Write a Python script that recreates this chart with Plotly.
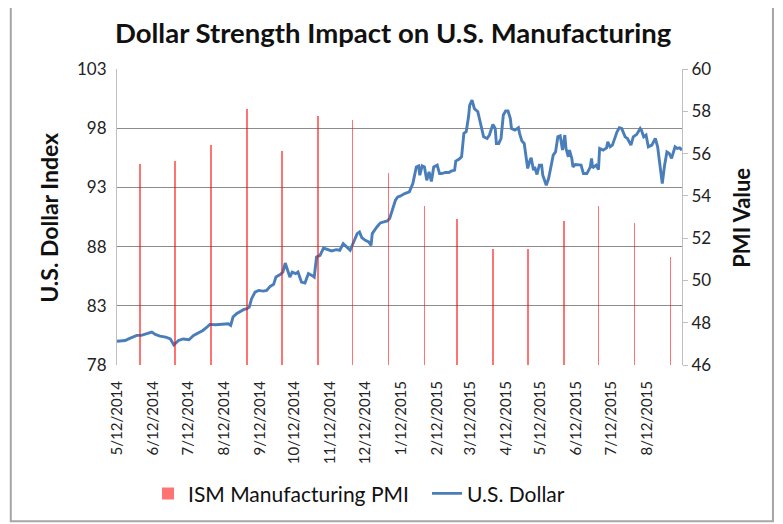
import plotly.graph_objects as go

# ---- Data ----
usd_dates = [
    "2014-05-12", "2014-05-19", "2014-05-22", "2014-05-25", "2014-05-29", "2014-06-02", "2014-06-05",
    "2014-06-08", "2014-06-11", "2014-06-14", "2014-06-18", "2014-06-23", "2014-06-27", "2014-06-30",
    "2014-07-04", "2014-07-08", "2014-07-13", "2014-07-17", "2014-07-21", "2014-07-25", "2014-07-28",
    "2014-07-31", "2014-08-05", "2014-08-09", "2014-08-12", "2014-08-16", "2014-08-18", "2014-08-20",
    "2014-08-23", "2014-08-26", "2014-08-29", "2014-09-01", "2014-09-03", "2014-09-05", "2014-09-08",
    "2014-09-11", "2014-09-15", "2014-09-18", "2014-09-21", "2014-09-24", "2014-09-26", "2014-09-30",
    "2014-10-02", "2014-10-04", "2014-10-06", "2014-10-08", "2014-10-10", "2014-10-13", "2014-10-15",
    "2014-10-18", "2014-10-21", "2014-10-24", "2014-10-27", "2014-10-29", "2014-10-31", "2014-11-03",
    "2014-11-06", "2014-11-10", "2014-11-13", "2014-11-17", "2014-11-20", "2014-11-23", "2014-11-26",
    "2014-11-29", "2014-12-02", "2014-12-05", "2014-12-07", "2014-12-09", "2014-12-12", "2014-12-15",
    "2014-12-17", "2014-12-18", "2014-12-22", "2014-12-25", "2014-12-28", "2014-12-31", "2015-01-02",
    "2015-01-04", "2015-01-07", "2015-01-09", "2015-01-11", "2015-01-15", "2015-01-18", "2015-01-19",
    "2015-01-22", "2015-01-25", "2015-01-27", "2015-01-28", "2015-01-30", "2015-02-01", "2015-02-03",
    "2015-02-05", "2015-02-07", "2015-02-09", "2015-02-12", "2015-02-14", "2015-02-16", "2015-02-19",
    "2015-02-22", "2015-02-24", "2015-02-27", "2015-02-28", "2015-03-03", "2015-03-05", "2015-03-07",
    "2015-03-09", "2015-03-11", "2015-03-12", "2015-03-14", "2015-03-15", "2015-03-16", "2015-03-19",
    "2015-03-21", "2015-03-22", "2015-03-24", "2015-03-27", "2015-03-29", "2015-04-01", "2015-04-03",
    "2015-04-04", "2015-04-06", "2015-04-08", "2015-04-10", "2015-04-12", "2015-04-14", "2015-04-16",
    "2015-04-17", "2015-04-20", "2015-04-23", "2015-04-24", "2015-04-26", "2015-04-28", "2015-04-29",
    "2015-05-01", "2015-05-03", "2015-05-04", "2015-05-06", "2015-05-07", "2015-05-09", "2015-05-11",
    "2015-05-13", "2015-05-14", "2015-05-17", "2015-05-19", "2015-05-21", "2015-05-23", "2015-05-25",
    "2015-05-27", "2015-05-29", "2015-05-30", "2015-05-31", "2015-06-02", "2015-06-03", "2015-06-05",
    "2015-06-06", "2015-06-08", "2015-06-09", "2015-06-11", "2015-06-14", "2015-06-16", "2015-06-18",
    "2015-06-21", "2015-06-24", "2015-06-25", "2015-06-26", "2015-06-29", "2015-07-01", "2015-07-02",
    "2015-07-05", "2015-07-08", "2015-07-09", "2015-07-11", "2015-07-13", "2015-07-14", "2015-07-17",
    "2015-07-19", "2015-07-21", "2015-07-24", "2015-07-26", "2015-07-29", "2015-07-31", "2015-08-03",
    "2015-08-06", "2015-08-07", "2015-08-09", "2015-08-11", "2015-08-13", "2015-08-16", "2015-08-19",
    "2015-08-21", "2015-08-23", "2015-08-25", "2015-08-27", "2015-08-29", "2015-08-31", "2015-09-02",
    "2015-09-05", "2015-09-07", "2015-09-09", "2015-09-11",
]
usd_values = [
    80.00, 80.07, 80.20, 80.35, 80.50, 80.50, 80.58,
    80.64, 80.78, 80.58, 80.44, 80.35, 80.20, 79.70,
    80.07, 80.20, 80.13, 80.50, 80.70, 80.92, 81.15,
    81.43, 81.40, 81.43, 81.43, 81.48, 81.34, 82.05,
    82.33, 82.53, 82.67, 82.75, 82.89, 83.60, 84.16,
    84.30, 84.24, 84.30, 84.64, 84.81, 85.43, 85.66,
    85.85, 86.61, 86.00, 85.43, 85.85, 85.72, 85.85,
    85.00, 84.92, 85.72, 85.57, 85.43, 87.12, 87.26,
    87.88, 87.74, 87.63, 87.74, 87.69, 88.25, 87.97,
    87.69, 88.39, 89.10, 89.24, 88.76, 88.53, 88.39,
    88.11, 89.10, 89.66, 90.00, 90.08, 90.17, 90.37,
    91.07, 91.92, 92.20, 92.26, 92.48, 92.62, 92.62,
    93.33, 94.73, 94.82, 94.03, 94.82, 94.73, 93.60,
    94.31, 93.50, 94.73, 94.88, 94.17, 94.17, 94.26,
    94.26, 94.37, 94.45, 95.22, 95.39, 95.58, 97.56,
    97.70, 98.96, 99.95, 100.38, 100.10, 99.67, 99.39,
    98.54, 97.84, 97.27, 97.13, 97.42, 98.32, 97.98,
    96.71, 96.71, 97.13, 99.11, 99.45, 99.45, 98.83,
    97.98, 97.84, 98.04, 97.56, 96.91, 96.71, 95.87,
    94.60, 95.30, 95.50, 94.45, 94.73, 94.09, 94.88,
    94.88, 94.03, 93.19, 93.75, 94.73, 95.72, 96.00,
    97.27, 97.36, 96.85, 96.15, 97.42, 96.29, 95.58,
    96.15, 95.45, 94.73, 94.93, 94.88, 94.88, 94.17,
    94.17, 94.73, 95.45, 94.65, 94.88, 94.50, 96.29,
    96.15, 96.34, 96.85, 96.43, 96.57, 96.91, 97.70,
    98.04, 97.98, 97.27, 97.13, 96.57, 97.27, 97.48,
    97.98, 97.84, 97.27, 97.42, 96.43, 96.57, 97.13,
    96.43, 94.88, 93.33, 94.88, 96.00, 95.87, 95.45,
    96.43, 96.29, 96.34, 96.15,
]

pmi_dates = [
    "2014-06-01", "2014-07-01", "2014-08-01", "2014-09-01", "2014-10-01", "2014-11-01",
    "2014-12-01", "2015-01-01", "2015-02-01", "2015-03-01", "2015-04-01", "2015-05-01",
    "2015-06-01", "2015-07-01", "2015-08-01", "2015-09-01",
]
pmi_values = [
    55.5, 55.65, 56.4, 58.1, 56.1, 57.8,
    57.6, 55.1, 53.5, 52.9, 51.5, 51.5,
    52.8, 53.5, 52.7, 51.1,
]

tick_dates = [
    "2014-05-12", "2014-06-12", "2014-07-12", "2014-08-12", "2014-09-12", "2014-10-12",
    "2014-11-12", "2014-12-12", "2015-01-12", "2015-02-12", "2015-03-12", "2015-04-12",
    "2015-05-12", "2015-06-12", "2015-07-12", "2015-08-12",
]
tick_labels = [
    "5/12/2014", "6/12/2014", "7/12/2014", "8/12/2014", "9/12/2014", "10/12/2014",
    "11/12/2014", "12/12/2014", "1/12/2015", "2/12/2015", "3/12/2015", "4/12/2015",
    "5/12/2015", "6/12/2015", "7/12/2015", "8/12/2015",
]

FONT = "Lato, Carlito, Calibri, 'Open Sans', sans-serif"
DAY_MS = 86400000

fig = go.Figure()
fig.add_trace(go.Bar(
    x=pmi_dates, y=pmi_values, yaxis="y2", name="ISM Manufacturing PMI",
    marker=dict(color="rgba(255,0,0,0.55)", line=dict(width=0)),
    width=1.5 * DAY_MS,
))
fig.add_trace(go.Scatter(
    x=usd_dates, y=usd_values, mode="lines", name="U.S. Dollar",
    line=dict(color="#4A7EBB", width=2.9),
))

# The page has an 8px body margin, so the figure is 8px smaller than the window.
fig.update_layout(
    width=775, height=516,
    margin=dict(l=109, r=101, t=61, b=159, autoexpand=False),
    paper_bgcolor="white", plot_bgcolor="white",
    font=dict(family=FONT, size=17, color="#222222"),
    title=dict(text="<b>Dollar Strength Impact on U.S. Manufacturing</b>",
               x=0.497, xanchor="center", y=0.951, yanchor="middle",
               font=dict(size=27.5, color="#111111")),
    showlegend=True,
    legend=dict(orientation="h", x=0.0549, xanchor="left", y=-0.435, yanchor="middle",
                font=dict(size=21, color="#111111"), itemwidth=30, entrywidth=234,
                entrywidthmode="pixels", traceorder="normal", bgcolor="rgba(0,0,0,0)"),
    bargap=0,
    xaxis=dict(type="date", range=["2014-05-12", "2015-09-11"],
               tickmode="array", tickvals=tick_dates, ticktext=tick_labels,
               tickangle=-90, tickfont=dict(size=15), showgrid=False,
               showline=False, ticks="outside", ticklen=9, tickcolor="rgba(0,0,0,0)",
               zeroline=False, automargin=False),
    yaxis=dict(range=[78, 103], dtick=5, tick0=78, showgrid=True, gridcolor="#8C8C8C",
               gridwidth=1, showline=True, linecolor="#BFBFBF", linewidth=1,
               ticks="outside", ticklen=6, tickcolor="rgba(0,0,0,0)",
               zeroline=False, tickfont=dict(size=17), automargin=False),
    yaxis2=dict(range=[46, 60], dtick=2, tick0=46, overlaying="y", side="right",
                showgrid=False, showline=True, linecolor="#BFBFBF", linewidth=1,
                ticks="outside", ticklen=5, tickcolor="#BFBFBF", zeroline=False,
                tickfont=dict(size=17), automargin=False),
    annotations=[
        dict(text="<b>U.S. Dollar Index</b>", xref="paper", yref="paper",
             x=-0.1204, y=0.497, xanchor="center", yanchor="middle", textangle=-90,
             showarrow=False, font=dict(size=23, color="#111111")),
        dict(text="<b>PMI Value</b>", xref="paper", yref="paper",
             x=1.106, y=0.497, xanchor="center", yanchor="middle", textangle=-90,
             showarrow=False, font=dict(size=22, color="#111111")),
    ],
    shapes=[dict(type="rect", xref="paper", yref="paper",
                 x0=-0.188, x1=1.161, y0=-0.528, y1=1.25,
                 line=dict(color="#A6A6A6", width=2), layer="below")],
)

fig.write_html("out.html")
